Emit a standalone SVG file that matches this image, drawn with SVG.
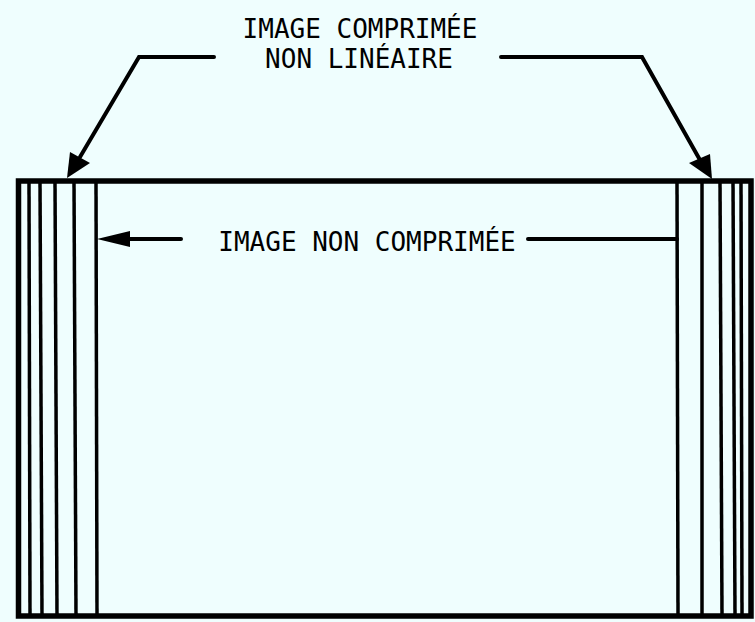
<svg xmlns="http://www.w3.org/2000/svg" width="755" height="622" viewBox="0 0 755 622">
<defs>
<style>
.t{font-family:"DejaVu Sans Mono","Liberation Mono",monospace;font-size:26px;fill:#000;text-anchor:middle}
.ln{stroke:#000;stroke-width:4;fill:none;stroke-linecap:round;stroke-linejoin:miter}
.v{stroke:#000;stroke-width:3.5}
.b{stroke:#000;stroke-width:5.5;fill:none}
</style>
</defs>
<rect width="755" height="622" fill="#effefe"/>
<g id="frame">
<rect class="b" x="18.5" y="181" width="732.5" height="435"/>
<line class="v" x1="29" y1="181" x2="30" y2="616"/>
<line class="v" x1="40" y1="181" x2="42" y2="616"/>
<line class="v" x1="55" y1="181" x2="57" y2="616"/>
<line class="v" x1="74" y1="181" x2="76" y2="616"/>
<line class="v" x1="96" y1="181" x2="97" y2="616"/>
<line class="v" x1="677" y1="181" x2="678" y2="616"/>
<line class="v" x1="702" y1="181" x2="702" y2="616"/>
<line class="v" x1="720" y1="181" x2="722" y2="616"/>
<line class="v" x1="733" y1="181" x2="735" y2="616"/>
<line class="v" x1="741" y1="181" x2="742" y2="616"/>
</g>
<g id="label-compressed">
<text class="t" x="360" y="38">IMAGE COMPRIMÉE</text>
<text class="t" x="359" y="68">NON LINÉAIRE</text>
</g>
<g id="label-uncompressed">
<text class="t" x="367" y="251">IMAGE NON COMPRIMÉE</text>
</g>
<g id="connectors">
<polyline class="ln" points="214,57 139,57 80,157"/>
<polygon points="67,178 70,152 90,163" fill="#000"/>
<polyline class="ln" points="501,57 642,57 700,160"/>
<polygon points="712,179 689,163 710,154" fill="#000"/>
<line class="ln" x1="120" y1="239" x2="181" y2="239"/>
<polygon points="97,239 130,231 130,247" fill="#000"/>
<line class="ln" x1="528" y1="239" x2="677" y2="239"/>
</g>
</svg>
